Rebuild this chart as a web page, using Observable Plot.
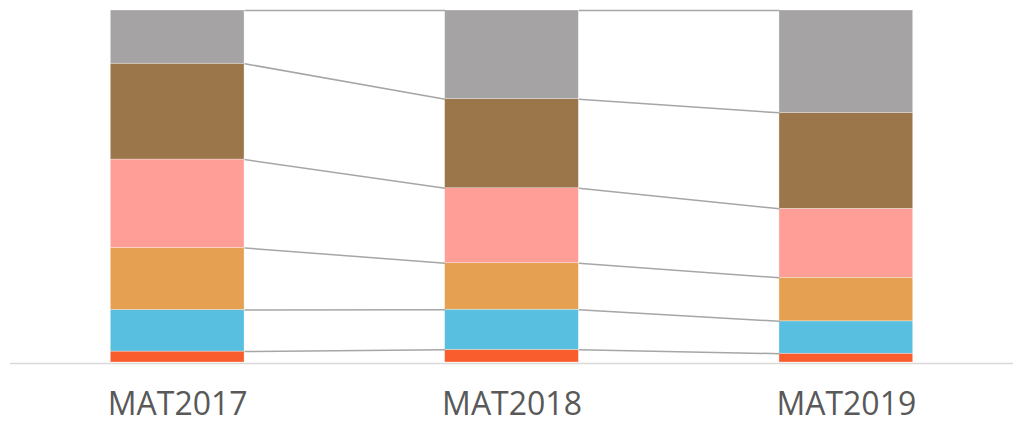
<!DOCTYPE html>
<html>
<head>
<meta charset="utf-8">
<script src="https://cdn.jsdelivr.net/npm/d3@7"></script>
<script src="https://cdn.jsdelivr.net/npm/@observablehq/plot@0.6"></script>
<style>
  html, body { margin: 0; padding: 0; background: #fff; }
  #chart svg { display: block; }
</style>
</head>
<body>
<div id="chart"></div>
<script>
// Categories (x) and series shares (%) from bottom to top
const categories = ["MAT2017", "MAT2018", "MAT2019"];
const seriesNames = ["S1", "S2", "S3", "S4", "S5", "S6"];
const s1 = [3.1, 3.6, 2.5];
const s2 = [11.8, 11.4, 9.2];
const s3 = [17.6, 13.2, 12.4];
const s4 = [25.1, 21.3, 19.6];
const s5 = [27.2, 25.3, 27.3];
const s6 = [15.1, 25.2, 29.1];
const seriesValues = [s1, s2, s3, s4, s5, s6];
const colors = ["#f95c2d", "#59bfe1", "#e6a051", "#fe9e97", "#9c764b", "#a5a3a4"];

const half = 0.2; // half bar width in category units

// Build stacked table (normalized to 100)
const rects = [];
const bounds = [];
categories.forEach((c, i) => {
  const total = d3.sum(seriesValues, s => s[i]);
  let acc = 0;
  seriesValues.forEach((s, k) => {
    const y1 = acc;
    acc += s[i] / total * 100;
    rects.push({cat: c, idx: i, series: seriesNames[k], y1, y2: acc});
    bounds.push({idx: i, k, y: acc});
  });
});

const links = [];
for (let i = 0; i < categories.length - 1; i++) {
  seriesNames.forEach((_, k) => {
    const a = bounds.find(b => b.idx === i && b.k === k);
    const b = bounds.find(b => b.idx === i + 1 && b.k === k);
    links.push({x1: i + half, x2: i + 1 - half, y1: a.y, y2: b.y});
  });
}

const chart = Plot.plot({
  width: 1020,
  height: 425,
  marginLeft: 10,
  marginRight: 7,
  marginTop: 10,
  marginBottom: 63,
  style: {fontFamily: "'Open Sans', sans-serif", background: "#fff"},
  x: {type: "linear", domain: [-0.5, 2.5]},
  y: {domain: [0, 100], axis: null},
  color: {domain: seriesNames, range: colors},
  marks: [
    Plot.rect(rects, {
      x1: d => d.idx - half,
      x2: d => d.idx + half,
      y1: "y1",
      y2: "y2",
      fill: "series",
      stroke: "#fff",
      strokeWidth: 0.6,
      strokeOpacity: 0.5
    }),
    Plot.link(links, {
      x1: "x1", x2: "x2", y1: "y1", y2: "y2",
      stroke: "#a6a6a6",
      strokeWidth: 1.5
    }),
    Plot.ruleY([0], {stroke: "#d9d9d9", strokeWidth: 1.5, dy: 1}),
    Plot.axisX({
      ticks: d3.range(categories.length),
      tickFormat: i => categories[i],
      tickSize: 0,
      tickPadding: 30,
      fontSize: 32,
      color: "#595959",
      label: null
    })
  ]
});
document.getElementById("chart").append(chart);
</script>
</body>
</html>
